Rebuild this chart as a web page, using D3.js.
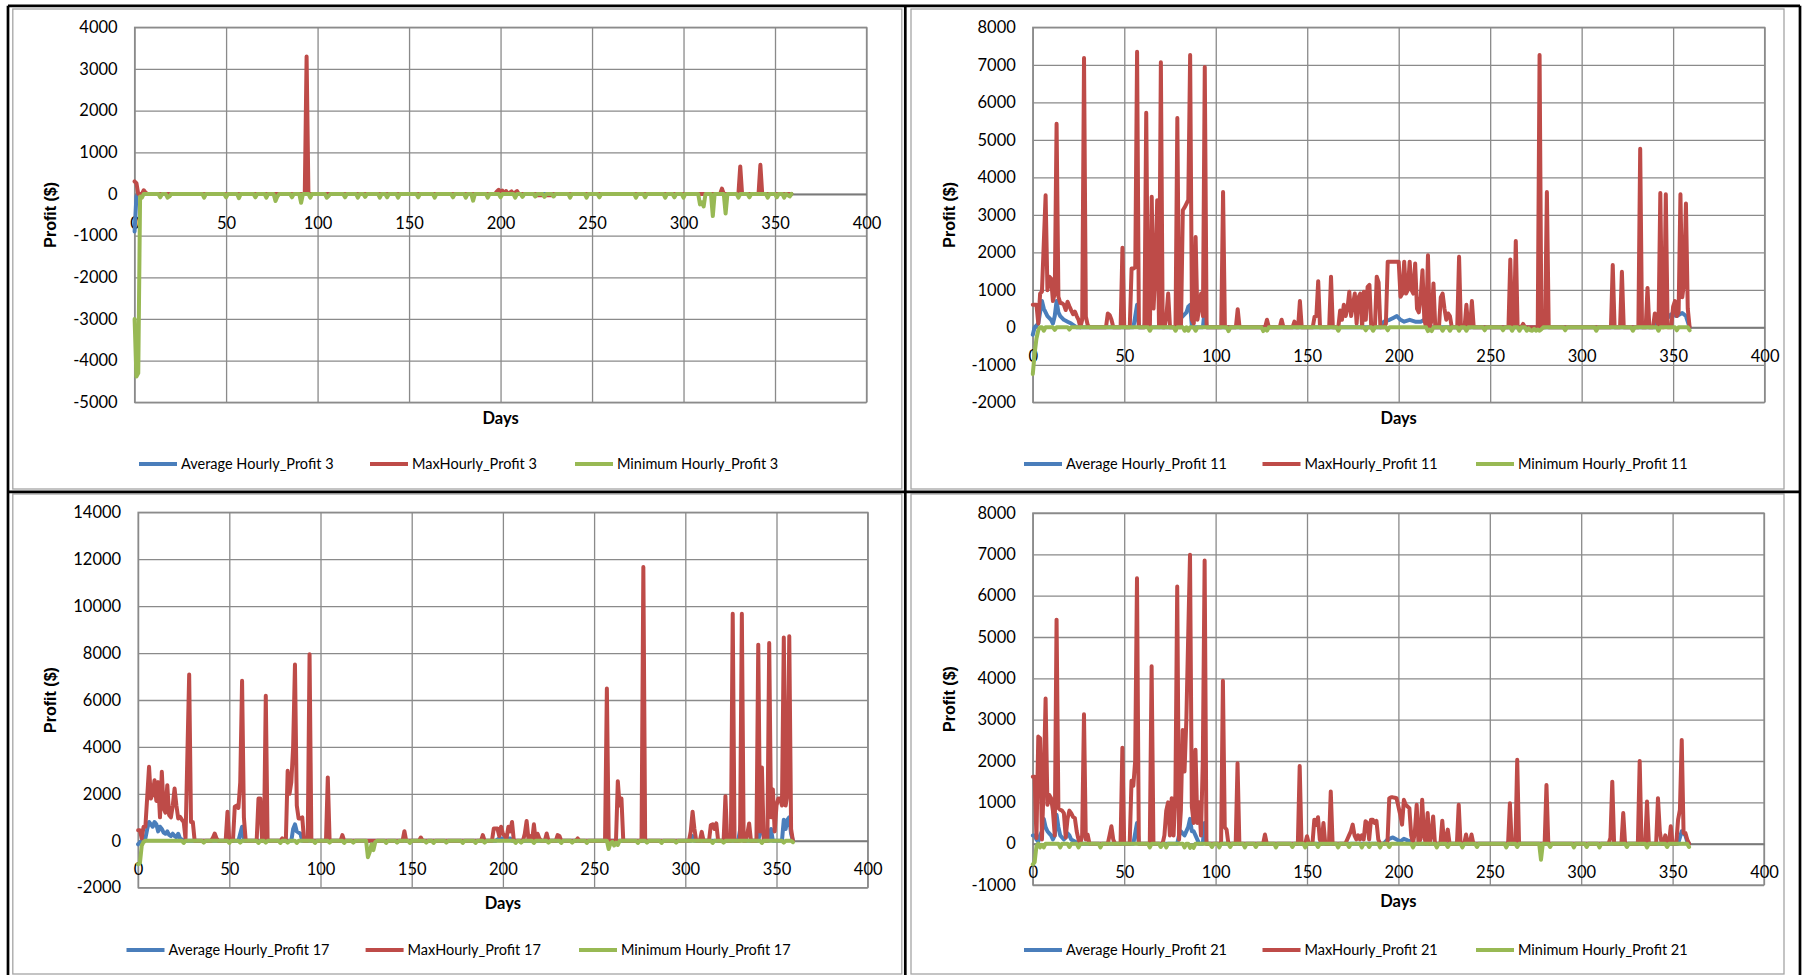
<!DOCTYPE html>
<html>
<head>
<meta charset="utf-8">
<script src="https://cdn.jsdelivr.net/npm/d3@7"></script>
<style>
  html, body { margin: 0; padding: 0; background: #fff; }
  svg { display: block; }
  text { font-family: Lato, "Liberation Sans", sans-serif; fill: #000; }
</style>
</head>
<body>
<svg id="chart" width="1805" height="975"></svg>
<script>
// ---- data: [day, profit] points ----
var xTicks = [0, 50, 100, 150, 200, 250, 300, 350, 400];
var yTicks3 = [-5000, -4000, -3000, -2000, -1000, 0, 1000, 2000, 3000, 4000];
var yTicks11 = [-2000, -1000, 0, 1000, 2000, 3000, 4000, 5000, 6000, 7000, 8000];
var yTicks17 = [-2000, 0, 2000, 4000, 6000, 8000, 10000, 12000, 14000];
var yTicks21 = [-1000, 0, 1000, 2000, 3000, 4000, 5000, 6000, 7000, 8000];
var seriesNames = ["Average Hourly_Profit", "MaxHourly_Profit", "Minimum Hourly_Profit"];

var avg3 = [[0,-900],[1,-60],[2,0],[359,0]];
var max3 = [[0,300],[1,260],[2,0],[4,0],[5,90],[6,30],[7,0],[93,0],[94,3300],[95,0],[197,0],[198,60],[199,100],[200,50],[201,80],[202,0],[203,70],[204,0],[206,60],[207,0],[209,70],[210,0],[219,0],[220,-30],[228,-30],[229,0],[320,0],[321,130],[322,0],[330,0],[331,660],[332,0],[341,0],[342,700],[343,0],[359,0]];
var min3 = [[0,-3000],[1,-4380],[2,-4300],[3,-60],[4,-90],[5,0],[13,0],[14,-80],[15,0],[17,0],[18,-90],[19,-60],[20,0],[37,0],[38,-90],[39,0],[49,0],[50,-80],[51,0],[56,0],[57,-100],[58,0],[65,0],[66,-80],[67,0],[71,0],[72,-90],[73,0],[76,0],[77,-170],[78,-60],[79,0],[85,0],[86,-80],[87,0],[90,0],[91,-210],[92,0],[95,0],[96,-90],[97,0],[104,0],[105,-90],[106,-50],[107,0],[114,0],[115,-80],[116,0],[121,0],[122,-90],[123,0],[125,0],[126,-70],[127,0],[133,0],[134,-90],[135,0],[137,0],[138,-80],[139,0],[143,0],[144,-90],[145,0],[154,0],[155,-80],[156,0],[163,0],[164,-90],[165,0],[173,0],[174,-80],[175,0],[180,0],[181,-90],[182,0],[184,0],[185,-160],[186,0],[192,0],[193,-90],[194,0],[199,0],[200,-80],[201,0],[207,0],[208,-90],[209,0],[211,0],[212,-70],[213,0],[218,0],[219,-60],[220,0],[223,0],[224,-70],[225,0],[228,0],[229,-60],[230,0],[237,0],[238,-90],[239,0],[246,0],[247,-90],[248,0],[253,0],[254,-80],[255,0],[273,0],[274,-90],[275,0],[278,0],[279,-80],[280,0],[289,0],[290,-90],[291,0],[294,0],[295,-80],[296,0],[299,0],[300,-90],[301,0],[308,0],[309,-250],[310,-200],[311,-300],[312,0],[315,0],[316,-530],[317,0],[322,0],[323,-470],[324,0],[329,0],[330,-90],[331,0],[335,0],[336,-80],[337,0],[345,0],[346,-90],[347,0],[350,0],[351,-80],[352,0],[354,0],[355,-90],[356,0],[358,-60],[359,0]];

var avg11 = [[0,-200],[1,0],[3,100],[5,700],[6,500],[7,400],[8,300],[10,200],[11,100],[12,300],[13,700],[14,400],[15,300],[17,200],[19,150],[21,100],[24,0],[55,0],[57,600],[58,0],[61,0],[62,400],[63,0],[79,0],[80,200],[82,300],[84,400],[85,550],[86,600],[87,0],[93,0],[94,500],[95,0],[190,0],[192,150],[195,200],[197,250],[199,300],[201,200],[203,150],[206,200],[209,150],[212,150],[214,200],[216,300],[217,0],[340,0],[343,300],[346,200],[349,350],[352,300],[355,380],[357,300],[359,0]];
var max11 = [[0,600],[2,600],[3,100],[4,900],[5,950],[7,3520],[8,990],[9,1350],[10,1300],[11,700],[12,900],[13,5430],[14,815],[15,650],[16,640],[17,600],[18,460],[19,680],[20,560],[21,450],[22,350],[23,420],[24,300],[25,200],[26,0],[27,200],[28,7180],[29,280],[30,60],[31,0],[40,0],[41,370],[42,330],[43,200],[44,0],[48,0],[49,2120],[50,0],[53,0],[54,1570],[55,1570],[56,1600],[57,7350],[58,0],[61,0],[62,5720],[63,0],[64,0],[65,3480],[66,500],[67,1500],[68,3390],[69,0],[70,7070],[71,0],[72,0],[73,300],[74,900],[75,0],[78,0],[79,5580],[80,0],[81,0],[82,3120],[83,3200],[84,3300],[85,3400],[86,7260],[87,200],[88,100],[89,2410],[90,200],[92,900],[93,300],[94,6940],[95,0],[103,0],[104,3610],[105,0],[111,0],[112,480],[113,0],[127,0],[128,200],[129,0],[135,0],[136,200],[137,0],[142,0],[143,150],[144,0],[145,0],[146,700],[147,0],[153,0],[154,280],[155,300],[156,1230],[157,0],[162,0],[163,1350],[164,0],[167,0],[168,450],[169,200],[170,600],[171,300],[172,500],[173,950],[174,300],[175,600],[176,900],[177,100],[178,800],[179,900],[180,0],[181,950],[182,200],[183,1080],[184,1130],[185,0],[187,0],[188,1350],[189,1200],[190,0],[192,0],[193,100],[194,1750],[195,1750],[196,1750],[197,1750],[198,1750],[199,1750],[200,1750],[201,815],[202,900],[203,1750],[204,900],[205,1000],[206,1750],[207,1000],[208,900],[209,1700],[210,500],[211,400],[212,800],[213,1520],[214,200],[215,0],[216,1920],[217,0],[218,200],[219,1170],[220,0],[222,0],[223,800],[224,900],[225,500],[226,200],[227,370],[228,300],[229,0],[232,0],[233,1880],[234,0],[236,0],[237,600],[238,0],[239,0],[240,700],[241,0],[260,0],[261,1810],[262,0],[263,0],[264,2300],[265,0],[267,0],[268,90],[269,0],[276,0],[277,7260],[278,0],[280,0],[281,3610],[282,0],[316,0],[317,1660],[318,0],[321,0],[322,1480],[323,0],[331,0],[332,4760],[333,0],[335,0],[336,1050],[337,0],[339,0],[340,370],[341,300],[342,0],[343,3580],[344,0],[345,0],[346,3550],[347,0],[349,0],[350,550],[351,700],[352,300],[353,400],[354,3550],[355,800],[356,1200],[357,3300],[358,500],[359,0]];
var min11 = [[0,-1250],[1,-700],[2,-300],[3,-80],[4,0],[5,0],[6,-90],[7,0],[11,0],[12,-70],[13,0],[19,0],[20,-60],[21,0],[63,0],[64,-90],[65,0],[77,0],[78,-90],[79,0],[82,0],[83,-90],[84,0],[85,-90],[86,0],[88,0],[89,-90],[90,0],[106,0],[107,-100],[108,0],[125,0],[126,-100],[127,-40],[128,-90],[129,0],[166,0],[167,-90],[168,0],[181,0],[182,-80],[183,0],[185,0],[186,-90],[187,0],[193,0],[194,-80],[195,0],[215,0],[216,-100],[217,-60],[218,-100],[219,0],[223,0],[224,-90],[225,0],[227,0],[228,-90],[229,0],[232,0],[233,-90],[234,0],[236,0],[237,-90],[238,0],[246,0],[247,-80],[248,0],[256,0],[257,-80],[258,0],[261,0],[262,-90],[263,0],[265,0],[266,-90],[267,0],[269,0],[270,-90],[271,-30],[272,-80],[273,-90],[274,-40],[275,-90],[276,-60],[277,-90],[278,-50],[279,0],[290,0],[291,-80],[292,0],[307,0],[308,-90],[309,0],[327,0],[328,-90],[329,0],[341,0],[342,-90],[343,0],[351,0],[352,-80],[353,0],[358,0],[359,-80]];

var avg17 = [[0,-150],[2,0],[4,100],[5,500],[6,800],[7,700],[8,600],[9,800],[10,700],[11,400],[12,600],[13,500],[14,350],[15,300],[16,400],[17,250],[18,200],[19,300],[20,200],[21,150],[22,300],[23,100],[25,0],[55,0],[57,600],[58,0],[69,0],[70,300],[71,0],[84,0],[85,500],[86,700],[87,400],[89,300],[90,0],[196,0],[198,100],[204,100],[205,0],[303,0],[304,200],[305,0],[329,0],[331,900],[332,0],[340,0],[341,400],[342,700],[343,200],[344,0],[346,0],[347,500],[348,0],[353,0],[354,900],[355,500],[356,900],[357,1000],[358,300],[359,0]];
var max17 = [[0,450],[1,450],[2,100],[3,600],[4,600],[6,3150],[7,1800],[8,2000],[9,2580],[10,1700],[11,2500],[12,1000],[13,2940],[14,1380],[15,1200],[16,2370],[17,1100],[18,1000],[19,1500],[20,2230],[21,1500],[22,950],[23,1020],[24,900],[25,800],[26,100],[28,7090],[29,800],[30,800],[31,0],[40,0],[41,120],[42,310],[43,100],[44,0],[48,0],[49,1235],[50,0],[52,0],[53,1450],[54,1500],[55,1400],[56,2500],[57,6820],[58,1000],[59,0],[65,0],[66,1800],[67,1800],[68,0],[69,0],[70,6180],[71,0],[78,0],[79,100],[80,0],[81,0],[82,2980],[83,2000],[84,2500],[85,4000],[86,7510],[87,1500],[88,950],[89,950],[90,1000],[91,0],[93,0],[94,7950],[95,0],[103,0],[104,2700],[105,0],[111,0],[112,240],[113,0],[145,0],[146,410],[147,0],[154,0],[155,140],[156,0],[188,0],[189,240],[190,0],[194,0],[195,525],[196,525],[197,520],[198,200],[199,600],[200,300],[201,200],[202,100],[203,600],[204,400],[205,800],[206,0],[211,0],[212,300],[213,840],[214,100],[215,200],[216,0],[217,700],[218,0],[219,300],[220,100],[221,0],[223,0],[224,310],[225,0],[229,0],[230,240],[231,200],[232,0],[240,0],[241,100],[242,0],[256,0],[257,6490],[258,0],[262,0],[263,2540],[264,1500],[265,1800],[266,0],[276,0],[277,11670],[278,0],[302,0],[303,400],[304,1235],[305,500],[306,0],[308,0],[309,380],[310,0],[313,0],[314,670],[315,700],[316,500],[317,740],[318,0],[321,0],[322,1900],[323,0],[325,0],[326,9680],[327,0],[330,0],[331,9680],[332,0],[333,0],[334,300],[335,740],[336,0],[339,0],[340,8360],[341,400],[342,3120],[343,0],[345,0],[346,8430],[347,1000],[348,2190],[349,400],[350,1500],[351,1800],[352,1800],[353,1500],[354,8660],[355,1500],[356,2000],[357,8720],[358,500],[359,0]];
var min17 = [[0,-1000],[1,-950],[2,-200],[3,-50],[4,0],[24,0],[25,-90],[26,0],[35,0],[36,-80],[37,0],[49,0],[50,-90],[51,0],[55,0],[56,-80],[57,0],[65,0],[66,-90],[67,0],[69,0],[70,-80],[71,0],[77,0],[78,-90],[79,0],[81,0],[82,-80],[83,0],[86,0],[87,-90],[88,0],[96,0],[97,-90],[98,0],[104,0],[105,-80],[106,0],[112,0],[113,-90],[114,0],[117,0],[118,-80],[119,0],[125,0],[126,-700],[127,-480],[128,-150],[129,-400],[130,-60],[131,0],[135,0],[136,-90],[137,0],[141,0],[142,-80],[143,0],[148,0],[149,-90],[150,0],[157,0],[158,-80],[159,0],[161,0],[162,-90],[163,0],[168,0],[169,-80],[170,0],[177,0],[178,-90],[179,0],[184,0],[185,-90],[186,0],[189,0],[190,-80],[191,0],[206,0],[207,-90],[208,0],[209,0],[210,-80],[211,0],[216,0],[217,-90],[218,0],[224,0],[225,-80],[226,0],[231,0],[232,-90],[233,0],[237,0],[238,-80],[239,0],[245,0],[246,-90],[247,0],[257,0],[258,-350],[259,-100],[260,-50],[261,-200],[262,-80],[263,-180],[264,0],[273,0],[274,-90],[275,0],[278,0],[279,-80],[280,0],[286,0],[287,-90],[288,0],[294,0],[295,-80],[296,0],[314,0],[315,-90],[316,0],[320,0],[321,-80],[322,0],[341,0],[342,-90],[343,0],[353,0],[354,-80],[355,0],[358,0],[359,-60]];

var avg21 = [[0,200],[1,200],[2,100],[3,50],[4,200],[5,300],[6,600],[7,400],[8,300],[9,250],[10,200],[11,100],[12,200],[13,700],[14,400],[15,200],[16,150],[17,100],[18,150],[19,250],[20,200],[21,100],[23,50],[25,0],[55,0],[57,500],[58,0],[79,0],[80,200],[81,300],[83,200],[85,400],[86,600],[87,300],[88,300],[89,200],[91,0],[93,0],[94,500],[95,0],[192,0],[194,100],[197,150],[199,100],[201,50],[203,120],[205,80],[207,50],[209,0],[353,0],[355,300],[356,250],[357,200],[358,50],[359,0]];
var max21 = [[0,1620],[1,1620],[2,140],[3,2590],[4,2550],[5,100],[6,1500],[7,3510],[8,940],[9,1180],[10,1100],[11,800],[12,200],[13,5420],[14,860],[15,820],[16,800],[17,740],[18,150],[19,600],[20,800],[21,740],[22,650],[23,620],[24,300],[25,100],[26,0],[27,200],[28,3130],[29,100],[30,220],[31,0],[41,0],[42,200],[43,420],[44,100],[45,0],[48,0],[49,2320],[50,0],[53,0],[54,1520],[55,1400],[56,2000],[57,6420],[58,0],[64,0],[65,4290],[66,0],[71,0],[72,200],[73,800],[74,1000],[75,200],[76,1100],[77,200],[78,1200],[79,6220],[80,100],[81,800],[82,2750],[83,1745],[84,3000],[86,6990],[87,900],[88,500],[89,2270],[90,500],[91,1000],[92,200],[93,2000],[94,6850],[95,0],[103,0],[104,3940],[105,400],[106,340],[107,0],[111,0],[112,1945],[113,0],[126,0],[127,220],[128,0],[145,0],[146,1880],[147,0],[149,0],[150,180],[151,0],[153,0],[154,580],[155,450],[156,640],[157,100],[158,0],[159,500],[160,0],[162,0],[163,1260],[164,0],[171,0],[172,100],[173,200],[174,300],[175,460],[176,200],[177,100],[178,200],[179,100],[180,200],[181,100],[182,540],[183,500],[184,100],[185,580],[186,580],[187,500],[188,550],[189,100],[190,0],[194,0],[195,1100],[196,1120],[197,1120],[198,1110],[199,1100],[200,900],[201,700],[202,460],[203,1060],[204,940],[205,900],[206,860],[207,200],[208,0],[209,300],[210,940],[211,0],[212,100],[213,1060],[214,200],[215,0],[216,740],[217,0],[218,200],[219,660],[220,0],[223,0],[224,555],[225,0],[226,100],[227,340],[228,0],[232,0],[233,940],[234,0],[236,0],[237,220],[238,0],[239,0],[240,220],[241,0],[260,0],[261,980],[262,0],[264,0],[265,2030],[266,0],[280,0],[281,1420],[282,0],[315,0],[316,140],[317,1500],[318,0],[322,0],[323,740],[324,0],[331,0],[332,2000],[333,0],[335,0],[336,1020],[337,0],[341,0],[342,1100],[343,300],[344,0],[345,0],[346,200],[347,0],[348,0],[349,420],[350,0],[352,0],[353,580],[354,820],[355,2510],[356,260],[357,260],[358,100],[359,0]];
var min21 = [[0,-500],[1,-450],[2,-60],[3,0],[4,-90],[5,-30],[6,-90],[7,0],[14,0],[15,-90],[16,0],[19,0],[20,-80],[21,0],[24,0],[25,-90],[26,0],[36,0],[37,-90],[38,0],[63,0],[64,-90],[65,0],[69,0],[70,-80],[71,0],[72,0],[73,-90],[74,0],[82,0],[83,-90],[84,0],[85,0],[86,-100],[87,-40],[88,-100],[89,0],[97,0],[98,-80],[99,0],[101,0],[102,-90],[103,0],[107,0],[108,-80],[109,0],[115,0],[116,-90],[117,0],[121,0],[122,-80],[123,0],[132,0],[133,-90],[134,0],[141,0],[142,-80],[143,0],[148,0],[149,-90],[150,0],[155,0],[156,-80],[157,0],[166,0],[167,-90],[168,0],[172,0],[173,-80],[174,0],[179,0],[180,-90],[181,0],[183,0],[184,-80],[185,0],[189,0],[190,-90],[191,0],[194,0],[195,-80],[196,0],[207,0],[208,-90],[209,0],[220,0],[221,-90],[222,0],[226,0],[227,-80],[228,0],[234,0],[235,-90],[236,0],[242,0],[243,-80],[244,0],[258,0],[259,-90],[260,0],[264,0],[265,-80],[266,0],[277,0],[278,-390],[279,0],[282,0],[283,-80],[284,0],[295,0],[296,-90],[297,0],[302,0],[303,-80],[304,0],[309,0],[310,-90],[311,0],[324,0],[325,-80],[326,0],[335,0],[336,-90],[337,0],[346,0],[347,-80],[348,0],[358,0],[359,-80]];

// ---- layout ----
var colors = ["#4A7EBB", "#BE4B48", "#98B954"];
var svg = d3.select("#chart");
var plain = function(d) { return String(d); };

var panels = [
  { id: "3",  series: [avg3, max3, min3],     yTicks: yTicks3,  box: [12.8, 9, 889, 480],   plot: [134.6, 27.3, 866.5, 402.3],   legX: [139, 370, 575],      legY: 464 },
  { id: "11", series: [avg11, max11, min11],  yTicks: yTicks11, box: [911, 9, 873, 480],    plot: [1032.8, 27.3, 1764.6, 402.3], legX: [1024, 1262.5, 1476], legY: 464 },
  { id: "17", series: [avg17, max17, min17],  yTicks: yTicks17, box: [12.8, 494, 889, 480], plot: [138.1, 512.3, 867.7, 887.7],  legX: [126.5, 365.6, 579],  legY: 950 },
  { id: "21", series: [avg21, max21, min21],  yTicks: yTicks21, box: [911, 494, 873, 480],  plot: [1032.8, 513, 1764, 885],      legX: [1024, 1262.5, 1476], legY: 950 }
];

panels.forEach(function(p) {
  var g = svg.append("g");
  var left = p.plot[0], top = p.plot[1], right = p.plot[2], bottom = p.plot[3];

  // chart frame
  g.append("rect")
    .attr("x", p.box[0]).attr("y", p.box[1])
    .attr("width", p.box[2]).attr("height", p.box[3])
    .attr("fill", "#fff").attr("stroke", "#a5a5a5").attr("stroke-width", 1.3);

  var x = d3.scaleLinear().domain([0, 400]).range([left, right]);
  var y = d3.scaleLinear().domain(d3.extent(p.yTicks)).range([bottom, top]);

  // vertical gridlines
  var xg = g.append("g")
    .attr("transform", "translate(0," + bottom + ")")
    .call(d3.axisBottom(x).tickValues(xTicks).tickSize(-(bottom - top)).tickFormat(""));
  xg.select(".domain").remove();
  xg.selectAll("line").attr("stroke", "#8a8a8a").attr("stroke-width", 1.3);

  // y axis with horizontal gridlines
  var ya = g.append("g")
    .attr("transform", "translate(" + left + ",0)")
    .call(d3.axisLeft(y).tickValues(p.yTicks).tickFormat(plain).tickSize(-(right - left)).tickPadding(17));
  ya.select(".domain").remove();
  ya.selectAll("line").attr("stroke", "#8a8a8a").attr("stroke-width", 1.3);
  ya.selectAll("text").style("font-size", "16.5px").attr("fill", "#000");

  // plot border
  g.append("rect")
    .attr("x", left).attr("y", top)
    .attr("width", right - left).attr("height", bottom - top)
    .attr("fill", "none").attr("stroke", "#8a8a8a").attr("stroke-width", 1.3);

  // horizontal axis crossing at zero
  var xa = g.append("g")
    .attr("transform", "translate(0," + y(0) + ")")
    .call(d3.axisBottom(x).tickValues(xTicks).tickFormat(plain).tickSizeInner(0).tickSizeOuter(0).tickPadding(23));
  xa.select(".domain").attr("stroke", "#7a7a7a").attr("stroke-width", 2);
  xa.selectAll("text").style("font-size", "16.5px").attr("fill", "#000");

  // series
  var line = d3.line().x(function(d) { return x(d[0]); }).y(function(d) { return y(d[1]); });
  p.series.forEach(function(s, i) {
    g.append("path")
      .datum(s)
      .attr("d", line)
      .attr("fill", "none")
      .attr("stroke", colors[i])
      .attr("stroke-width", 4)
      .attr("stroke-linejoin", "round")
      .attr("stroke-linecap", "round");
  });

  // axis titles
  g.append("text")
    .attr("transform", "translate(" + (p.box[0] + 38) + "," + ((top + bottom) / 2) + ") rotate(-90)")
    .attr("text-anchor", "middle")
    .attr("dy", "0.35em")
    .style("font-family", "'Liberation Sans', Arial, sans-serif")
    .style("font-weight", "bold")
    .style("font-size", "16px")
    .text("Profit ($)");

  g.append("text")
    .attr("x", (left + right) / 2)
    .attr("y", bottom + 16)
    .attr("dy", "0.35em")
    .attr("text-anchor", "middle")
    .style("font-weight", "bold")
    .style("font-size", "16.5px")
    .text("Days");

  // legend
  seriesNames.forEach(function(name, i) {
    g.append("line")
      .attr("x1", p.legX[i]).attr("x2", p.legX[i] + 38)
      .attr("y1", p.legY).attr("y2", p.legY)
      .attr("stroke", colors[i]).attr("stroke-width", 4);
    g.append("text")
      .attr("x", p.legX[i] + 42)
      .attr("y", p.legY)
      .attr("dy", "0.35em")
      .style("font-size", "14.5px")
      .text(name + " " + p.id);
  });
});

// table cell borders
var rules = [
  [8, 5.8, 1800, 5.8], [8, 491.8, 1800, 491.8],
  [8, 5.8, 8, 975], [905.3, 5.8, 905.3, 975], [1800, 5.8, 1800, 975]
];
svg.selectAll(".rule").data(rules).join("line")
  .attr("class", "rule")
  .attr("x1", function(d) { return d[0]; }).attr("y1", function(d) { return d[1]; })
  .attr("x2", function(d) { return d[2]; }).attr("y2", function(d) { return d[3]; })
  .attr("stroke", "#000").attr("stroke-width", 2.7);
</script>
</body>
</html>
